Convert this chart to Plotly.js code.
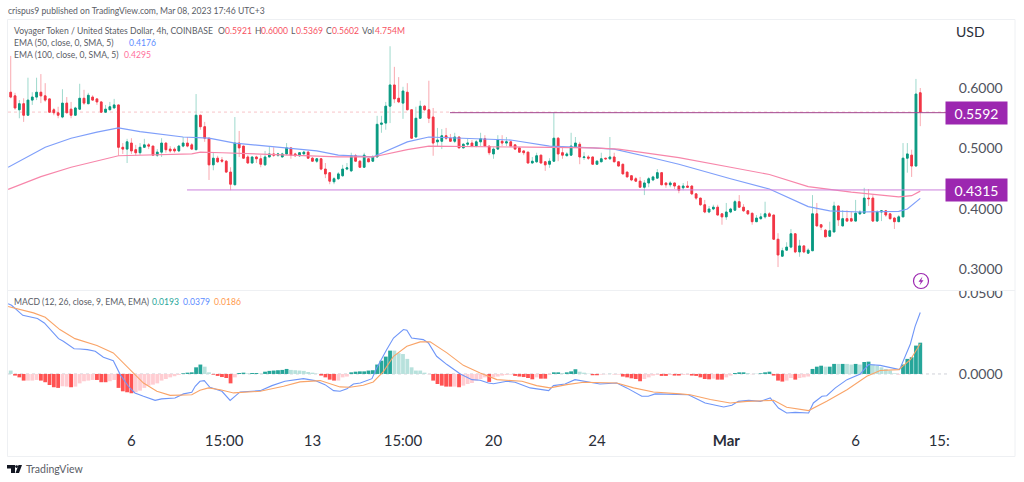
<!DOCTYPE html>
<html><head><meta charset="utf-8">
<script src="https://cdn.plot.ly/plotly-3.0.1.min.js"></script>
<style>html,body{margin:0;padding:0;background:#fff;overflow:hidden}</style>
</head><body><div id="chart" style="width:1024px;height:482px"></div>
<script>
const open_ = [
.593,.587,.564,.574,.555,.580,.585,.593,.587,.582,
.564,.559,.552,.575,.565,.555,.565,.583,.574,.585,
.582,.577,.560,.564,.567,.572,.502,.499,.509,.498,
.493,.502,.506,.504,.489,.494,.509,.499,.499,.496,
.504,.509,.506,.498,.555,.536,.517,.473,.484,.481,
.479,.461,.440,.509,.504,.486,.476,.486,.483,.473,
.486,.491,.489,.486,.491,.501,.491,.488,.491,.494,
.484,.479,.483,.466,.460,.445,.450,.455,.466,.463,
.488,.479,.469,.483,.479,.486,.540,.542,.570,.605,
.583,.575,.593,.564,.519,.550,.570,.564,.552,.511,
.512,.521,.517,.512,.519,.501,.507,.509,.504,.511,
.516,.504,.491,.499,.512,.509,.511,.506,.501,.496,
.494,.476,.478,.489,.478,.474,.479,.517,.493,.488,
.489,.502,.507,.485,.486,.486,.474,.478,.484,.483,
.486,.478,.474,.461,.455,.450,.446,.436,.443,.448,
.451,.460,.443,.440,.443,.438,.435,.438,.438,.425,
.418,.407,.395,.400,.403,.392,.387,.395,.398,.412,
.403,.397,.393,.379,.384,.387,.392,.390,.350,.322,
.332,.337,.359,.329,.339,.327,.331,.392,.374,.365,
.355,.362,.405,.372,.384,.384,.380,.392,.393,.418,
.418,.380,.395,.397,.392,.385,.379,.387,.484,.489,
.471,.5921];
const high = [
.653,.592,.580,.583,.617,.593,.617,.623,.608,.582,
.567,.569,.598,.585,.577,.569,.607,.597,.592,.588,
.582,.577,.572,.577,.582,.572,.509,.516,.517,.506,
.509,.516,.509,.504,.499,.517,.509,.504,.502,.506,
.519,.519,.509,.590,.555,.544,.517,.494,.488,.486,
.481,.469,.552,.529,.504,.489,.486,.488,.489,.496,
.504,.502,.493,.493,.509,.501,.493,.494,.496,.496,
.486,.484,.484,.476,.460,.453,.461,.473,.476,.493,
.491,.481,.493,.484,.489,.554,.554,.577,.669,.635,
.618,.602,.608,.564,.569,.579,.572,.612,.567,.534,
.532,.534,.524,.526,.519,.509,.517,.514,.514,.526,
.522,.504,.502,.522,.522,.519,.512,.506,.501,.496,
.494,.486,.493,.489,.478,.484,.559,.519,.504,.494,
.526,.519,.511,.494,.489,.486,.481,.493,.484,.519,
.493,.478,.474,.461,.455,.453,.453,.448,.453,.455,
.466,.460,.443,.446,.443,.438,.443,.446,.438,.426,
.418,.415,.405,.407,.407,.392,.410,.402,.415,.423,
.408,.398,.393,.390,.393,.412,.395,.390,.360,.336,
.345,.367,.360,.349,.339,.335,.423,.410,.374,.367,
.379,.412,.405,.398,.398,.395,.415,.398,.435,.433,
.423,.398,.398,.398,.392,.387,.390,.509,.509,.498,
.615,.6000];
const low = [
.583,.564,.550,.544,.555,.572,.580,.575,.577,.559,
.555,.550,.550,.559,.550,.554,.565,.572,.574,.579,
.572,.559,.560,.564,.567,.488,.491,.476,.491,.488,
.489,.502,.499,.488,.486,.486,.493,.493,.493,.494,
.502,.502,.499,.498,.531,.511,.448,.464,.476,.476,
.460,.431,.440,.486,.484,.476,.476,.476,.469,.471,
.486,.486,.486,.486,.489,.483,.486,.486,.491,.483,
.478,.476,.464,.451,.441,.441,.448,.453,.464,.461,
.478,.468,.468,.478,.478,.486,.526,.531,.542,.575,
.575,.549,.564,.517,.519,.550,.562,.542,.488,.504,
.499,.514,.511,.509,.501,.501,.504,.502,.502,.504,
.504,.489,.483,.498,.504,.504,.504,.498,.493,.489,
.476,.476,.476,.476,.463,.468,.478,.479,.483,.488,
.488,.502,.474,.481,.481,.474,.474,.478,.481,.481,
.478,.471,.458,.453,.446,.445,.436,.423,.436,.446,
.451,.440,.435,.436,.433,.426,.431,.436,.423,.415,
.405,.393,.393,.398,.390,.374,.382,.393,.397,.402,
.395,.390,.374,.379,.382,.384,.387,.350,.304,.321,
.331,.335,.327,.321,.327,.326,.331,.372,.365,.354,
.354,.362,.372,.372,.379,.379,.380,.390,.393,.405,
.379,.380,.380,.387,.382,.367,.379,.387,.460,.453,
.471,.5369];
const close_ = [
.585,.567,.574,.555,.580,.585,.593,.587,.580,.560,
.559,.555,.575,.559,.555,.567,.583,.575,.588,.580,
.577,.560,.565,.569,.572,.502,.499,.511,.496,.493,
.502,.506,.504,.489,.494,.509,.498,.496,.496,.504,
.509,.504,.499,.555,.536,.517,.473,.484,.478,.479,
.461,.441,.509,.501,.484,.476,.486,.483,.474,.486,
.491,.489,.491,.491,.501,.489,.488,.493,.494,.484,
.479,.483,.466,.458,.446,.450,.458,.466,.468,.488,
.479,.469,.489,.478,.486,.540,.542,.570,.605,.582,
.577,.595,.564,.517,.550,.570,.564,.550,.509,.514,
.521,.517,.512,.519,.501,.507,.509,.504,.511,.516,
.504,.493,.499,.514,.509,.511,.504,.499,.494,.493,
.476,.479,.488,.476,.473,.479,.517,.491,.489,.491,
.504,.509,.486,.486,.484,.474,.479,.483,.483,.486,
.478,.471,.458,.453,.448,.446,.436,.443,.450,.453,
.460,.440,.440,.443,.438,.431,.438,.436,.425,.418,
.407,.395,.400,.403,.390,.387,.395,.400,.412,.403,
.397,.392,.379,.385,.387,.392,.388,.350,.324,.331,
.337,.359,.329,.339,.329,.332,.392,.372,.370,.354,
.364,.405,.382,.384,.380,.380,.393,.395,.418,.417,
.380,.395,.397,.390,.384,.379,.387,.484,.491,.471,
.590,.5602];

const ema50X = [-0.6,8,14,20,25,30,40,46,52,60,71,76,84,92,97,116,125,135,140,148,155,167,176,185,190,197,206,208,210,211];
const ema50Y = [.469,.502,.517,.527,.534,.528,.519,.517,.509,.503,.496,.489,.486,.511,.519,.514,.504,.501,.499,.486,.474,.450,.433,.404,.397,.395,.396,.400,.412,.4176];
const ema100X = [-0.6,7,14,20,25,42,44,49,60,76,84,92,97,118,135,141,155,167,176,185,195,206,209,211];
const ema100Y = [.4325,.4534,.469,.480,.488,.491,.494,.493,.490,.486,.486,.498,.504,.503,.501,.499,.485,.469,.457,.437,.428,.420,.422,.4295];

const histValues = [
.0021,-.0010,-.0021,-.0041,-.0041,-.0041,-.0037,-.0041,-.0051,-.0068,
-.0082,-.0086,-.0076,-.0078,-.0082,-.0078,-.0058,-.0045,-.0041,-.0037,
-.0037,-.0051,-.0051,-.0045,-.0037,-.0086,-.0107,-.0113,-.0119,-.0113,
-.0103,-.0086,-.0072,-.0066,-.0058,-.0041,-.0031,-.0021,-.0014,-.0006,
.0004,.0008,.0010,.0041,.0058,.0045,.0010,-.0004,-.0012,-.0019,
-.0025,-.0058,-.0021,.0006,.0008,.0004,.0006,.0006,.0002,.0014,
.0019,.0021,.0023,.0025,.0031,.0025,.0023,.0021,.0019,.0012,
.0008,.0002,-.0010,-.0021,-.0035,-.0041,-.0041,-.0021,-.0016,.0010,
.0014,.0016,.0016,.0021,.0023,.0058,.0082,.0107,.0144,.0144,
.0128,.0123,.0093,.0041,.0021,.0021,.0008,-.0002,-.0041,-.0062,
-.0072,-.0078,-.0078,-.0078,-.0082,-.0072,-.0062,-.0056,-.0041,-.0031,
-.0021,-.0049,-.0021,-.0016,-.0010,-.0006,-.0004,-.0012,-.0016,-.0019,
-.0025,-.0033,-.0021,-.0029,-.0029,-.0006,.0010,.0010,.0006,.0010,
.0016,.0029,.0014,.0008,.0002,-.0008,-.0008,-.0004,-.0002,.0002,
-.0004,-.0004,-.0016,-.0021,-.0027,-.0031,-.0045,-.0031,-.0021,-.0010,
-.0006,-.0012,-.0012,-.0006,-.0010,-.0010,-.0006,-.0006,-.0010,-.0012,
-.0021,-.0031,-.0033,-.0029,-.0035,-.0035,-.0021,-.0010,.0006,.0010,
.0010,.0006,-.0002,.0002,.0004,.0010,.0014,-.0010,-.0041,-.0047,
-.0041,-.0025,-.0035,-.0025,-.0021,-.0016,.0031,.0045,.0051,.0045,
.0045,.0062,.0062,.0062,.0062,.0058,.0062,.0058,.0074,.0076,
.0058,.0051,.0041,.0031,.0021,.0004,-.0004,.0058,.0093,.0103,
.0175,.0193];
// strong = T (rising away from zero), faded = F, as drawn in the picture
const histStrong = (
"FTTTFFFTTT"+"TTFFTFFFFF"+"TTTFFTTTTF"+"FFFFFFFFFF"+"TTTTTFFTTT"+
"TTFTTFTTFT"+"TTTTTFFFFF"+"FFTTTTFFFT"+"TTTTTTTTTF"+"FFFFFFFFTT"+
"TTTFTFFFFF"+"FTFFFFFTTT"+"TTFTTFTTFT"+"TTFFFTTFFF"+"FFTTTTTFFF"+
"FTTFTTFFTT"+"TTTFTTFFTT"+"TFFFTTTTTT"+"FFTFFFTTTF"+"TTFTFFTFTT"+
"FFFFFFFTTT"+"TT").split("");

const macdX = [-0.6,.2,2.8,4.5,6.2,7.8,9.1,11.1,12.2,14.7,16.1,17.8,19.6,21.5,23.8,25.4,27.3,28.8,30.8,31.9,33.5,35,38.1,40.1,42,42.8,43.9,44.9,46.2,49,50.9,53.2,55.1,57.9,60.6,63.6,67.9,70.6,72.9,74.9,76.4,78,79.5,81.1,83.8,84.9,87.2,88.8,91.1,91.9,93,95.7,96.9,98.8,101.2,104.3,107,108.9,110.8,112,115.1,117,120.5,124.8,125.9,128.6,130.9,133.6,136.7,140.6,142.9,146.4,147.9,149.5,155.3,157.2,161.1,165.4,167.3,168.8,171.2,173.9,176.2,178.1,180,182,185.1,186.2,188.2,189.3,191.3,194,197.1,199,201.7,204,206.2,208.7,209.8,211];
const macdY = [.0434,.0424,.0362,.0350,.0342,.0315,.0274,.0218,.0202,.0156,.0154,.0150,.0140,.0103,.0082,-.0004,-.0076,-.0117,-.0138,-.0148,-.0163,-.0154,-.0148,-.0123,-.0113,-.0076,-.0045,-.0041,-.0082,-.0107,-.0163,-.0111,-.0107,-.0103,-.0072,-.0045,-.0029,-.0041,-.0066,-.0103,-.0107,-.0091,-.0062,-.0056,-.0029,.0037,.0150,.0222,.0274,.0270,.0222,.0212,.0191,.0109,.0058,0,-.0035,-.0039,-.0056,-.0060,-.0045,-.0051,-.0086,-.0103,-.0072,-.0062,-.0035,-.0049,-.0062,-.0056,-.0086,-.0138,-.0138,-.0123,-.0128,-.0128,-.0179,-.0204,-.0193,-.0169,-.0163,-.0169,-.0148,-.0210,-.0241,-.0237,-.0241,-.0179,-.0138,-.0134,-.0086,-.0035,0,.0058,.0053,.0041,.0027,.0185,.0294,.0379];
const signalX = [-0.6,1.4,5.3,8,11.4,14.9,20,23.8,26.5,28.5,30.8,33.9,37,42,43.9,45.9,48.6,51.7,57.9,63.3,67.1,71.8,76.4,78.7,81.8,84.1,86.5,88.8,91.9,95,97.3,101.2,105,108.9,112.8,118.6,122,125.1,129,132.9,140.6,144.5,149.1,155.3,157.6,162.3,166.9,170.8,177,180,185.1,189.3,194,198.6,201.7,206,208.7,211];
const signalY = [.0416,.0403,.0377,.0350,.0274,.0218,.0175,.0130,.0058,0,-.0056,-.0107,-.0132,-.0128,-.0101,-.0086,-.0097,-.0117,-.0107,-.0076,-.0049,-.0041,-.0080,-.0082,-.0070,-.0049,.0016,.0109,.0171,.0198,.0198,.0130,.0053,.0006,-.0035,-.0045,-.0072,-.0086,-.0066,-.0051,-.0056,-.0086,-.0111,-.0123,-.0128,-.0158,-.0179,-.0169,-.0163,-.0206,-.0226,-.0169,-.0097,-.0014,.0021,.0027,.0088,.0186];

const timeTicks = [28,49.5,70,91,112,136,166,196,215.4];
const timeLabels = ["6","15:00","13","15:00","20","24","<b>Mar</b>","6","15:"];
const priceTicks = [0.3,0.4,0.5,0.6];
const macdTicks = [0,0.05];
const resistance = 0.5592, support = 0.4315, lastClose = 0.5602;

const W = 1024, H = 482;
const px = x => x / W, py = y => 1 - y / H;
const P = (x, y) => `${px(x)},${py(y)}`;

const idx = open_.map((_, i) => i);
const GREEN = '#089981', RED = '#f23645', WG = '#9fd9cd', WR = '#f9a9b0';
const FONT = 'Lato, sans-serif';
const MUTED = '#5a5d66';
const SM = 8.6;

const wickTrace = {
  type:'candlestick', x:idx, open:open_, high:high, low:low, close:close_, xaxis:'x', yaxis:'y',
  whiskerwidth:0, hoverinfo:'skip', showlegend:false,
  increasing:{line:{color:WG,width:1},fillcolor:WG},
  decreasing:{line:{color:WR,width:1},fillcolor:WR}
};
const bodyTrace = {
  type:'candlestick', x:idx, open:open_, close:close_,
  high:open_.map((o,i)=>Math.max(o,close_[i])), low:open_.map((o,i)=>Math.min(o,close_[i])),
  xaxis:'x', yaxis:'y', whiskerwidth:0, hoverinfo:'skip', showlegend:false,
  increasing:{line:{color:GREEN,width:1},fillcolor:GREEN},
  decreasing:{line:{color:RED,width:1},fillcolor:RED}
};
const line = (x,y,c,ya,w)=>({type:'scatter',mode:'lines',x,y,xaxis:'x',yaxis:ya,showlegend:false,hoverinfo:'skip',line:{color:c,width:w,shape:'linear'}});
const histColors = histValues.map((v,i)=> v>=0 ? (histStrong[i]==='T'?'#26a69a':'#b7e1dc') : (histStrong[i]==='T'?'#ff5252':'#ffcdd2'));
const histTrace = {type:'bar',x:idx,y:histValues,xaxis:'x',yaxis:'y2',marker:{color:histColors,line:{width:0}},showlegend:false,hoverinfo:'skip'};

const txt = (x,y,text,color,size,extra)=>Object.assign({xref:'paper',yref:'paper',x:px(x),y:py(y),text,showarrow:false,xanchor:'left',yanchor:'middle',font:{family:FONT,size,color},borderpad:0},extra||{});
const RV = '#f7525f', BL = '#5b8cff', PK = '#ff6f9c', OR = '#ff9a4d';

const annotations = [
  txt(7,11,'crispus9 published on TradingView.com, Mar 08, 2023 17:46 UTC+3',MUTED,SM),
  txt(13,31,'Voyager Token / United States Dollar, 4h, COINBASE',MUTED,SM),
  txt(217,31,'O',MUTED,SM), txt(223.5,31,'0.5921',RV,SM),
  txt(253.5,31,'H',MUTED,SM), txt(260,31,'0.6000',RV,SM),
  txt(290,31,'L',MUTED,SM), txt(295,31,'0.5369',RV,SM),
  txt(325,31,'C',MUTED,SM), txt(331,31,'0.5602',RV,SM),
  txt(361,31,'Vol',MUTED,SM), txt(374,31,'4.754M',RV,SM),
  txt(13,43,'EMA (50, close, 0, SMA, 5)',MUTED,SM), txt(128,43,'0.4176',BL,SM),
  txt(13,55,'EMA (100, close, 0, SMA, 5)',MUTED,SM), txt(123,55,'0.4295',PK,SM),
  txt(13,302,'MACD (12, 26, close, 9, EMA, EMA)',MUTED,SM),
  txt(151,302,'0.0193','#26a69a',SM), txt(182,302,'0.0379',BL,SM), txt(213,302,'0.0186',OR,SM),
  txt(955,32,'USD','#2a2e39',14),
  txt(25,469,'TradingView',MUTED,10.5),
  {xref:'paper',yref:'y',x:px(976.5),y:resistance,xanchor:'center',yanchor:'middle',text:'0.5592',showarrow:false,bgcolor:'#9c27b0',width:59,height:20,font:{family:FONT,size:14,color:'#fff'}},
  {xref:'paper',yref:'y',x:px(976.5),y:support,xanchor:'center',yanchor:'middle',text:'0.4315',showarrow:false,bgcolor:'#9c27b0',width:59,height:20,font:{family:FONT,size:14,color:'#fff'}}
];

const BORDER = '#eef0f3';
const XR = 217.2;
const shapes = [
  {type:'line',xref:'x',yref:'y',x0:-0.63,x1:XR,y0:lastClose,y1:lastClose,line:{color:'#f8c4c8',width:1,dash:'dot'},layer:'below'},
  {type:'line',xref:'x',yref:'y',x0:101.9,x1:XR,y0:resistance,y1:resistance,line:{color:'#a2478f',width:1}},
  {type:'line',xref:'x',yref:'y',x0:40.9,x1:XR,y0:support,y1:support,line:{color:'#cb7fdc',width:1}},
  {type:'line',xref:'x',yref:'y2',x0:-0.63,x1:XR,y0:0,y1:0,line:{color:'#cfd2d8',width:1,dash:'dot'},layer:'below'},
  // clip of the top MACD tick label by the pane edge
  {type:'rect',xref:'paper',yref:'paper',x0:px(949),x1:px(1012),y0:py(291),y1:py(283),fillcolor:'#fff',line:{width:0},layer:'above'},
  // frame and pane divider
  {type:'rect',xref:'paper',yref:'paper',x0:px(7.5),x1:px(1015),y0:py(456.5),y1:py(19.5),line:{color:BORDER,width:1},layer:'above'},
  {type:'line',xref:'paper',yref:'paper',x0:px(7.5),x1:px(1015),y0:py(290.5),y1:py(290.5),line:{color:BORDER,width:1},layer:'above'},
  // alert icon
  {type:'circle',xref:'paper',yref:'paper',x0:px(913.5),x1:px(928.5),y0:py(288.5),y1:py(273.5),line:{color:'#9c27b0',width:1.2},layer:'above'},
  {type:'path',xref:'paper',yref:'paper',path:`M${P(922.5,276.5)} L${P(918.5,281.8)} L${P(920.8,281.8)} L${P(919.5,285.5)} L${P(923.5,280.2)} L${P(921.2,280.2)} Z`,fillcolor:'#9c27b0',line:{width:0},layer:'above'},
  // TradingView mark
  {type:'path',xref:'paper',yref:'paper',path:`M${P(7,465)} L${P(15,465)} L${P(15,473)} L${P(11,473)} L${P(11,468.5)} L${P(7,468.5)} Z`,fillcolor:'#131722',line:{width:0}},
  {type:'path',xref:'paper',yref:'paper',path:`M${P(18.5,465)} L${P(22,465)} L${P(19,473)} L${P(15.5,473)} Z`,fillcolor:'#131722',line:{width:0}},
  {type:'circle',xref:'paper',yref:'paper',x0:px(15.2),x1:px(18),y0:py(468),y1:py(465.2),fillcolor:'#131722',line:{width:0}}
];

const layout = {
  width:W, height:H, margin:{l:0,r:0,t:0,b:0}, paper_bgcolor:'#fff', plot_bgcolor:'#fff',
  showlegend:false, dragmode:false, bargap:0.12, boxgap:0.45, barmode:'overlay',
  font:{family:FONT},
  xaxis:{domain:[px(8),px(947)],range:[-0.63,XR],anchor:'y2',showgrid:false,zeroline:false,showline:false,
    tickmode:'array',tickvals:timeTicks,ticktext:timeLabels,ticks:'outside',ticklen:2,tickcolor:'rgba(0,0,0,0)',
    tickfont:{family:FONT,size:15,color:'#2a2e39'},rangeslider:{visible:false},fixedrange:true},
  yaxis:{domain:[py(290),py(20)],range:[.2661,.7124],side:'right',anchor:'x',showgrid:false,zeroline:false,showline:false,
    tickmode:'array',tickvals:priceTicks,tickformat:'.4f',ticks:'outside',ticklen:8,tickcolor:'rgba(0,0,0,0)',
    tickfont:{family:FONT,size:14,color:'#50535e'},fixedrange:true},
  yaxis2:{domain:[py(425),py(291)],range:[-.0315,.0512],side:'right',anchor:'x',showgrid:false,zeroline:false,showline:false,
    tickmode:'array',tickvals:macdTicks,tickformat:'.4f',ticks:'outside',ticklen:8,tickcolor:'rgba(0,0,0,0)',
    tickfont:{family:FONT,size:14,color:'#50535e'},fixedrange:true},
  annotations, shapes
};

const traces = [
  wickTrace, bodyTrace,
  line(ema50X,ema50Y,'#7f9ffa','y',1.2),
  line(ema100X,ema100Y,'#f786aa','y',1.2),
  histTrace,
  line(macdX,macdY,'#6f96f8','y2',1.1),
  line(signalX,signalY,'#f9a468','y2',1.1)
];
Plotly.newPlot('chart',traces,layout,{displayModeBar:false,staticPlot:true});
</script></body></html>
